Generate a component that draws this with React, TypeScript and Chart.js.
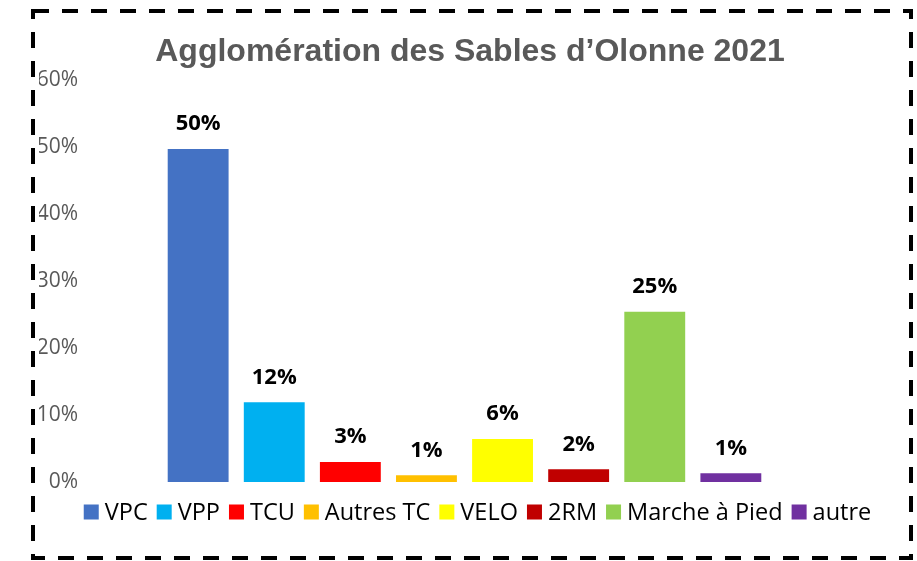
import React, { useEffect, useRef } from "react";
import { Chart, registerables } from "chart.js";

Chart.register(...registerables);

const TITLE = "Agglomération des Sables d’Olonne 2021";
const CATEGORY = [""];
const SERIES_NAMES = ["VPC", "VPP", "TCU", "Autres TC", "VELO", "2RM", "Marche à Pied", "autre"];
const SERIES_VALUES = [49.7, 11.9, 3.0, 1.0, 6.4, 1.9, 25.4, 1.3];
const SERIES_COLORS = ["#4472C4", "#00B0F0", "#FF0000", "#FFC000", "#FFFF00", "#C00000", "#92D050", "#7030A0"];
const Y_MIN = 0;
const Y_MAX = 60;
const Y_STEP = 10;

const LEGEND_FONT = "23.5px 'Open Sans', sans-serif";

const decorPlugin = {
  id: "decor",
  beforeDraw(chart: any) {
    const ctx = chart.ctx;
    ctx.save();
    ctx.fillStyle = "#ffffff";
    ctx.fillRect(0, 0, chart.width, chart.height);
    ctx.restore();
  },
  afterDraw(chart: any) {
    const ctx = chart.ctx;
    ctx.save();
    // dashed frame
    ctx.strokeStyle = "#000000";
    ctx.lineWidth = 4;
    ctx.setLineDash([16, 13]);
    ctx.beginPath();
    ctx.moveTo(33, 11);
    ctx.lineTo(911, 11);
    ctx.lineTo(911, 558);
    ctx.lineTo(33, 558);
    ctx.closePath();
    ctx.stroke();
    ctx.setLineDash([]);
    // title
    ctx.fillStyle = "#595959";
    ctx.font = "bold 32px 'Liberation Sans', Arial, sans-serif";
    ctx.textAlign = "center";
    ctx.textBaseline = "alphabetic";
    ctx.fillText(TITLE, 470, 61);
    // legend
    ctx.font = LEGEND_FONT;
    const box = 15;
    const gapText = 6;
    const gapItem = 9;
    const items = chart.data.datasets.map((ds: any) => ({
      label: ds.label,
      color: ds.backgroundColor,
      w: ctx.measureText(ds.label).width,
    }));
    let total = 0;
    items.forEach((it: any, i: number) => {
      total += box + gapText + it.w + (i < items.length - 1 ? gapItem : 0);
    });
    let x = 477.5 - total / 2;
    const cy = 512;
    ctx.textAlign = "left";
    ctx.textBaseline = "middle";
    items.forEach((it: any) => {
      ctx.fillStyle = it.color;
      ctx.fillRect(x, cy - box / 2, box, box);
      ctx.fillStyle = "#000000";
      ctx.fillText(it.label, x + box + gapText, cy + 1);
      x += box + gapText + it.w + gapItem;
    });
    ctx.restore();
  },
  afterDatasetsDraw(chart: any) {
    const ctx = chart.ctx;
    ctx.save();
    ctx.fillStyle = "#000000";
    ctx.font = "bold 22px 'Open Sans', sans-serif";
    ctx.textAlign = "center";
    ctx.textBaseline = "middle";
    chart.data.datasets.forEach((ds: any, i: number) => {
      const meta = chart.getDatasetMeta(i);
      meta.data.forEach((el: any, j: number) => {
        const v = ds.data[j];
        ctx.fillText(Math.round(v) + "%", el.x, el.y - 25);
      });
    });
    ctx.restore();
  },
};

export default function App() {
  const ref = useRef<HTMLCanvasElement>(null);
  useEffect(() => {
    if (!ref.current) return;
    const chart = new Chart(ref.current, {
      type: "bar",
      data: {
        labels: CATEGORY,
        datasets: SERIES_NAMES.map((name, i) => ({
          label: name,
          data: [SERIES_VALUES[i]],
          backgroundColor: SERIES_COLORS[i],
          borderWidth: 0,
          categoryPercentage: 0.8,
          barPercentage: 0.8,
        })),
      },
      options: {
        animation: false,
        responsive: false,
        devicePixelRatio: 1,
        layout: { padding: { left: 39, right: 0, top: 80, bottom: 0 } },
        plugins: {
          title: { display: false },
          tooltip: { enabled: false },
          legend: { display: false },
        },
        scales: {
          x: {
            display: true,
            grid: { display: false, drawTicks: false },
            border: { display: false },
            ticks: { display: false },
            afterFit(scale: any) {
              scale.height = 79;
            },
          },
          y: {
            min: Y_MIN,
            max: Y_MAX,
            grid: { display: false, drawTicks: false },
            border: { display: false },
            ticks: {
              stepSize: Y_STEP,
              padding: 6,
              color: "#595959",
              font: { family: "'Open Sans', sans-serif", size: 21 },
              callback: (v: any) => v + "%",
            },
            afterFit(scale: any) {
              scale.width = 45;
            },
          },
          y2: {
            position: "right",
            display: true,
            grid: { display: false, drawTicks: false },
            border: { display: false },
            ticks: { display: false },
            afterFit(scale: any) {
              scale.width = 72;
            },
          },
        },
      } as any,
      plugins: [decorPlugin],
    });
    return () => chart.destroy();
  }, []);
  return (
    <div style={{ position: "absolute", left: 0, top: 0, width: 917, height: 561 }}>
      <canvas ref={ref} width={917} height={561} style={{ width: 917, height: 561, display: "block" }} />
    </div>
  );
}
